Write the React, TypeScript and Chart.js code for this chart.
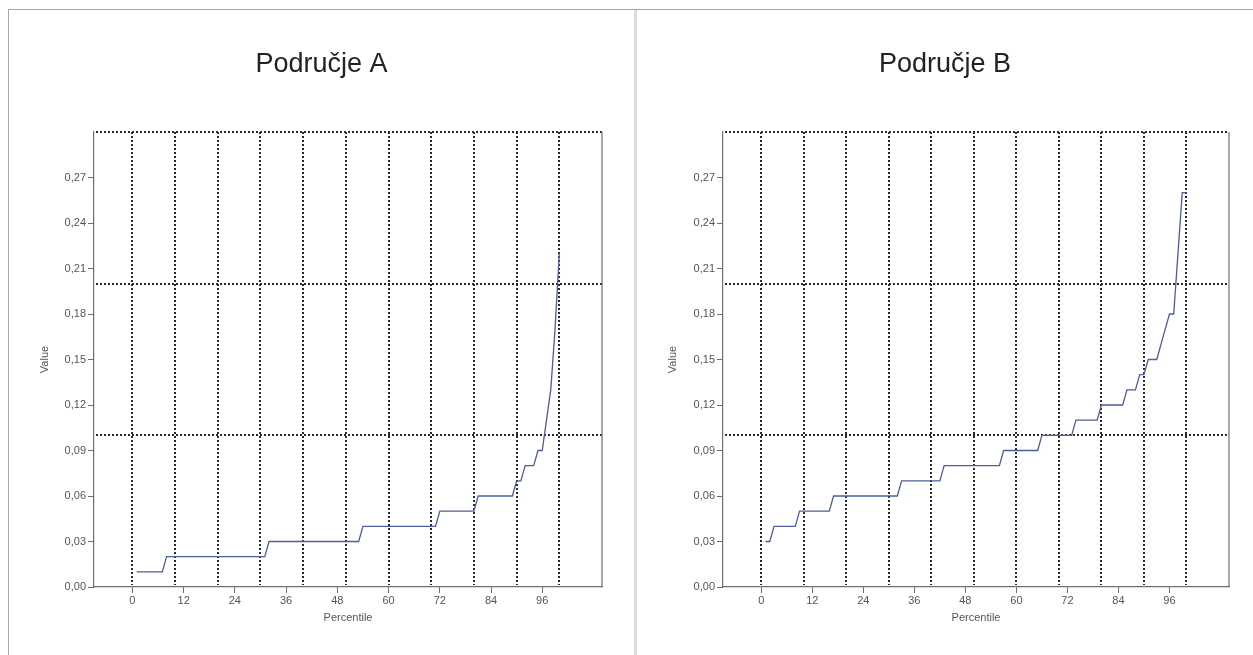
import React, { useEffect, useRef } from "react";
import { Chart, registerables } from "chart.js";

Chart.register(...registerables);

// ---- data ----
const titleA = "Područje A";
const titleB = "Područje B";

const percentileA = [1, 7, 8, 31, 32, 53, 54, 71, 72, 80, 81, 89, 90, 91, 92, 94, 95, 96, 97, 98, 99, 100];
const valueA = [0.01, 0.01, 0.02, 0.02, 0.03, 0.03, 0.04, 0.04, 0.05, 0.05, 0.06, 0.06, 0.07, 0.07, 0.08, 0.08, 0.09, 0.09, 0.11, 0.13, 0.17, 0.22];

const percentileB = [1, 2, 3, 8, 9, 16, 17, 32, 33, 42, 43, 56, 57, 65, 66, 73, 74, 79, 80, 85, 86, 88, 89, 90, 91, 93, 94, 95, 96, 97, 98, 99, 100];
const valueB = [0.03, 0.03, 0.04, 0.04, 0.05, 0.05, 0.06, 0.06, 0.07, 0.07, 0.08, 0.08, 0.09, 0.09, 0.1, 0.1, 0.11, 0.11, 0.12, 0.12, 0.13, 0.13, 0.14, 0.14, 0.15, 0.15, 0.16, 0.17, 0.18, 0.18, 0.22, 0.26, 0.26];

const xTicks = [0, 12, 24, 36, 48, 60, 72, 84, 96];
const yTicks = [0, 0.03, 0.06, 0.09, 0.12, 0.15, 0.18, 0.21, 0.24, 0.27];
const refX = [0, 10, 20, 30, 40, 50, 60, 70, 80, 90, 100];
const refY = [0.1, 0.2, 0.3];

const xLabel = "Percentile";
const yLabel = "Value";

const FONT = "'Liberation Sans', Arial, Helvetica, sans-serif";
const AXIS = "#6e6e6e";

const refPlugin = {
  id: "refLines",
  beforeDatasetsDraw(chart: any) {
    const { ctx, chartArea, scales } = chart;
    const x = scales.x, y = scales.y;
    ctx.save();
    ctx.strokeStyle = "#2a2a2a";
    ctx.lineWidth = 2;
    ctx.setLineDash([2, 2]);
    refX.forEach((v) => {
      const px = Math.round(x.getPixelForValue(v));
      ctx.beginPath();
      ctx.moveTo(px, chartArea.top);
      ctx.lineTo(px, chartArea.bottom - 2);
      ctx.stroke();
    });
    refY.forEach((v) => {
      const py = Math.round(y.getPixelForValue(v));
      ctx.beginPath();
      ctx.moveTo(chartArea.left + 2, py);
      ctx.lineTo(chartArea.right, py);
      ctx.stroke();
    });
    ctx.restore();
  },
  afterDraw(chart: any) {
    const { ctx, chartArea } = chart;
    ctx.save();
    ctx.strokeStyle = AXIS;
    ctx.lineWidth = 1.2;
    ctx.beginPath();
    ctx.moveTo(chartArea.right, chartArea.top);
    ctx.lineTo(chartArea.right, chartArea.bottom);
    ctx.stroke();
    ctx.restore();
  },
};

function Panel(props: { title: string; xs: number[]; ys: number[]; width: number; height: number; rightPad: number; yAxisWidth: number }) {
  const ref = useRef<HTMLCanvasElement | null>(null);
  useEffect(() => {
    if (!ref.current) return;
    const data = props.xs.map((v, i) => ({ x: v, y: props.ys[i] }));
    const chart = new Chart(ref.current, {
      type: "line",
      data: {
        datasets: [
          {
            data,
            borderColor: "#4e5d98",
            borderWidth: 1.3,
            pointRadius: 0,
            fill: false,
            tension: 0,
          },
        ],
      },
      options: {
        animation: false,
        responsive: false,
        devicePixelRatio: 1,
        layout: { padding: 0 },
        plugins: {
          legend: { display: false },
          tooltip: { enabled: false },
          title: {
            display: true,
            text: props.title,
            color: "#222",
            font: { family: FONT, size: 27, weight: "normal" },
            padding: { top: 38, bottom: 51.6 },
          },
        },
        scales: {
          x: {
            type: "linear",
            min: -9,
            max: 110,
            afterBuildTicks: (s: any) => {
              s.ticks = xTicks.map((v) => ({ value: v }));
            },
            afterFit: (s: any) => {
              s.height = 68;
            },
            grid: { drawOnChartArea: false, drawTicks: true, tickLength: 6, color: AXIS, lineWidth: 1 },
            border: { display: true, color: AXIS, width: 1.2 },
            ticks: {
              color: "#555",
              font: { family: FONT, size: 11 },
              padding: 1,
              maxRotation: 0,
              autoSkip: false,
              callback: (v: any) => String(v),
            },
            title: {
              display: true,
              text: xLabel,
              color: "#555",
              font: { family: FONT, size: 11 },
              padding: { top: 0, bottom: 30 },
            },
          },
          y: {
            type: "linear",
            position: "left",
            min: 0,
            max: 0.3,
            afterBuildTicks: (s: any) => {
              s.ticks = yTicks.map((v) => ({ value: v }));
            },
            afterFit: (s: any) => {
              s.width = props.yAxisWidth;
            },
            grid: { drawOnChartArea: false, drawTicks: true, tickLength: 6, color: AXIS, lineWidth: 1 },
            border: { display: true, color: AXIS, width: 1.2 },
            ticks: {
              color: "#555",
              font: { family: FONT, size: 11 },
              padding: 2,
              autoSkip: false,
              callback: (v: any) => Number(v).toFixed(2).replace(".", ","),
            },
            title: {
              display: true,
              text: yLabel,
              color: "#555",
              font: { family: FONT, size: 11 },
              padding: { top: 29, bottom: 0 },
            },
          },
          spacer: {
            type: "linear",
            position: "right",
            display: true,
            min: 0,
            max: 0.3,
            afterFit: (s: any) => {
              s.width = props.rightPad;
            },
            grid: { display: false, drawOnChartArea: false, drawTicks: false },
            border: { display: false },
            ticks: { display: false },
            title: { display: false },
          },
        },
      },
      plugins: [refPlugin],
    } as any);
    return () => chart.destroy();
  }, []);
  return <canvas ref={ref} width={props.width} height={props.height} style={{ display: "block", width: props.width, height: props.height }} />;
}

export default function App() {
  return (
    <div
      style={{
        position: "absolute",
        left: 8,
        top: 9,
        width: 1245,
        height: 646,
        borderTop: "1px solid #a8a8a8",
        borderLeft: "1px solid #a8a8a8",
        overflow: "hidden",
        background: "#fff",
      }}
    >
      <div style={{ position: "absolute", left: 0, top: 0 }}>
        <Panel title={titleA} xs={percentileA} ys={valueA} width={625} height={645} rightPad={32} yAxisWidth={85} />
      </div>
      <div style={{ position: "absolute", left: 625, top: 0, width: 3, height: 645, background: "#dcdcdc" }} />
      <div style={{ position: "absolute", left: 628, top: 0 }}>
        <Panel title={titleB} xs={percentileB} ys={valueB} width={616} height={645} rightPad={24} yAxisWidth={86} />
      </div>
    </div>
  );
}
